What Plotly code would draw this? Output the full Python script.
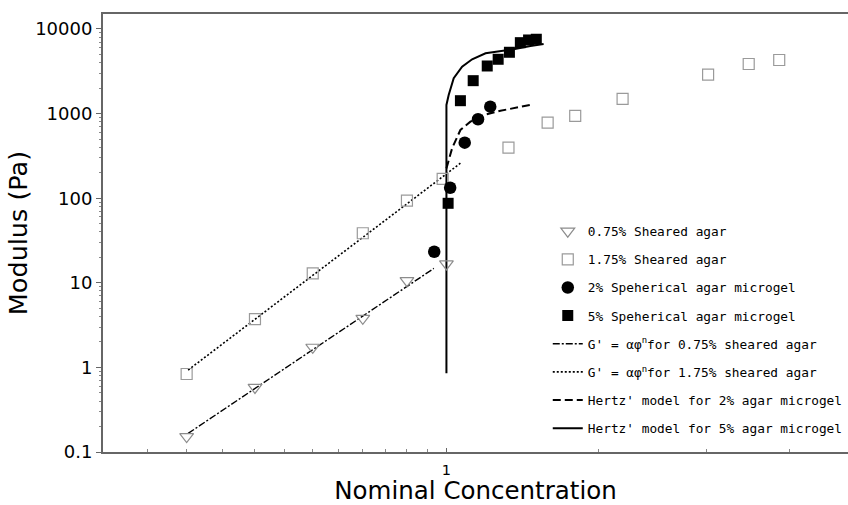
import plotly.graph_objects as go
import numpy as np

# ---- data ----
tri_x = [0.5, 0.6, 0.7, 0.8, 0.9, 1.0]
tri_y = [0.152, 0.58, 1.73, 3.8, 10.6, 16.7]

sqo_x = [0.5, 0.6, 0.7, 0.8, 0.9, 0.99, 1.18, 1.31, 1.41, 1.6, 2.01, 2.24, 2.43]
sqo_y = [0.835, 3.73, 12.9, 38.5, 93.4, 169, 395, 781, 937, 1489, 2884, 3855, 4300]

circ_x = [0.968, 1.01, 1.05, 1.088, 1.124]
circ_y = [23.3, 133, 453, 857, 1207]

sqf_x = [1.0045, 1.038, 1.074, 1.115, 1.148, 1.183, 1.218, 1.245, 1.271]
sqf_y = [87, 1420, 2449, 3652, 4385, 5305, 6890, 7413, 7560]

fit075_x = [0.502, 0.967]
fit075_y = [0.166, 14.8]

fit175_x = [0.502, 1.038]
fit175_y = [0.93, 259]

hertz2_x = [1.0, 1.0153, 1.038, 1.066, 1.105, 1.155, 1.251]
hertz2_y = [225, 389, 640, 802, 962, 1081, 1264]

hertz5_x = [1.0, 1.0, 1.006, 1.0196, 1.0427, 1.071, 1.110, 1.145, 1.196, 1.251, 1.296]
hertz5_y = [0.85, 1264, 1660, 2614, 3584, 4385, 5164, 5394, 5754, 6295, 6650]

names = [
    "0.75% Sheared agar",
    "1.75% Sheared agar",
    "2% Speherical agar microgel",
    "5% Speherical agar microgel",
    "G' = αφ<sup>n</sup>for 0.75% sheared agar",
    "G' = αφ<sup>n</sup>for 1.75% sheared agar",
    "Hertz' model for 2% agar microgel",
    "Hertz' model for 5% agar microgel",
]

x_minor = [0.45, 0.5, 0.55, 0.6, 0.65, 0.7, 0.75, 0.8, 0.85, 0.9, 0.95, 1.5, 2.0, 2.5]
y_major = [0.1, 1, 10, 100, 1000, 10000]
y_major_text = ["0.1", "1", "10", "100", "1000", "10000"]
y_minor = [m * 10.0 ** e for e in range(-1, 4) for m in range(2, 10)]

fig = go.Figure()

# lines
fig.add_trace(go.Scatter(x=fit075_x, y=fit075_y, mode="lines", name=names[4], legendgroup="g5",
                         legendrank=5,
                         line=dict(color="black", width=1.4, dash="7px,2px,2px,2px")))
fig.add_trace(go.Scatter(x=fit175_x, y=fit175_y, mode="lines", name=names[5], legendgroup="g6",
                         legendrank=6,
                         line=dict(color="black", width=1.6, dash="2px,2px")))
fig.add_trace(go.Scatter(x=hertz2_x, y=hertz2_y, mode="lines", name=names[6], legendgroup="g7",
                         legendrank=7,
                         line=dict(color="black", width=2, dash="8px,4px")))
fig.add_trace(go.Scatter(x=hertz5_x, y=hertz5_y, mode="lines", name=names[7], legendgroup="g8",
                         legendrank=8,
                         line=dict(color="black", width=2)))

# markers
fig.add_trace(go.Scatter(x=tri_x, y=tri_y, mode="markers", name=names[0], legendgroup="g1",
                         legendrank=1,
                         marker=dict(symbol="triangle-down-open", size=12, color="#8c8c8c",
                                     line=dict(width=1.2))))
fig.add_trace(go.Scatter(x=sqo_x, y=sqo_y, mode="markers", name=names[1], legendgroup="g2",
                         legendrank=2,
                         marker=dict(symbol="square-open", size=11, color="#9a9a9a",
                                     line=dict(width=1.2))))
fig.add_trace(go.Scatter(x=circ_x, y=circ_y, mode="markers", name=names[2], legendgroup="g3",
                         legendrank=3,
                         marker=dict(symbol="circle", size=12.5, color="black")))
fig.add_trace(go.Scatter(x=sqf_x, y=sqf_y, mode="markers", name=names[3], legendgroup="g4",
                         legendrank=4,
                         marker=dict(symbol="square", size=11, color="black")))

fig.update_layout(
    width=848, height=505,
    margin=dict(l=103, r=0, t=14, b=53, autoexpand=False),
    paper_bgcolor="white", plot_bgcolor="white",
    font=dict(family="DejaVu Sans", color="black"),
    legend=dict(
        x=0.597, y=0.538, xanchor="left", yanchor="top",
        traceorder="grouped", tracegroupgap=8.5,
        font=dict(family="DejaVu Sans Mono", size=12.8, color="black"),
        bgcolor="rgba(0,0,0,0)",
    ),
    showlegend=True,
)

fig.update_xaxes(
    type="log", range=[np.log10(0.4), 0.4653], automargin=False,
    showline=True, linecolor="#666666", linewidth=2, mirror=True,
    showgrid=False, zeroline=False,
    tickmode="array", tickvals=[1], ticktext=["1"],
    ticks="inside", ticklen=4, tickcolor="#666666", tickwidth=1,
    tickfont=dict(family="DejaVu Sans", size=14.5, color="black"),
    ticklabelstandoff=4,
    minor=dict(tickmode="array", tickvals=x_minor, ticks="inside", ticklen=3,
               tickcolor="#888888", tickwidth=1, showgrid=False),
    title=dict(text="Nominal Concentration", font=dict(family="DejaVu Sans", size=24.5, color="black"),
               standoff=8),
)
fig.update_yaxes(
    type="log", range=[-1, 4.177], automargin=False,
    showline=True, linecolor="#666666", linewidth=2, mirror=False,
    showgrid=False, zeroline=False,
    tickmode="array", tickvals=y_major, ticktext=y_major_text,
    ticks="outside", ticklen=5, tickcolor="#666666", tickwidth=1,
    tickfont=dict(family="DejaVu Sans", size=18, color="black"),
    minor=dict(tickmode="array", tickvals=y_minor, ticks="outside", ticklen=2.5,
               tickcolor="#888888", tickwidth=1, showgrid=False),
    title=dict(text="Modulus (Pa)", font=dict(family="DejaVu Sans", size=25.5, color="black"),
               standoff=0),
)

fig.write_html(
    "out.html",
    config={"displayModeBar": False},
    post_script="document.body.style.margin='0';document.body.style.overflow='hidden';",
)
